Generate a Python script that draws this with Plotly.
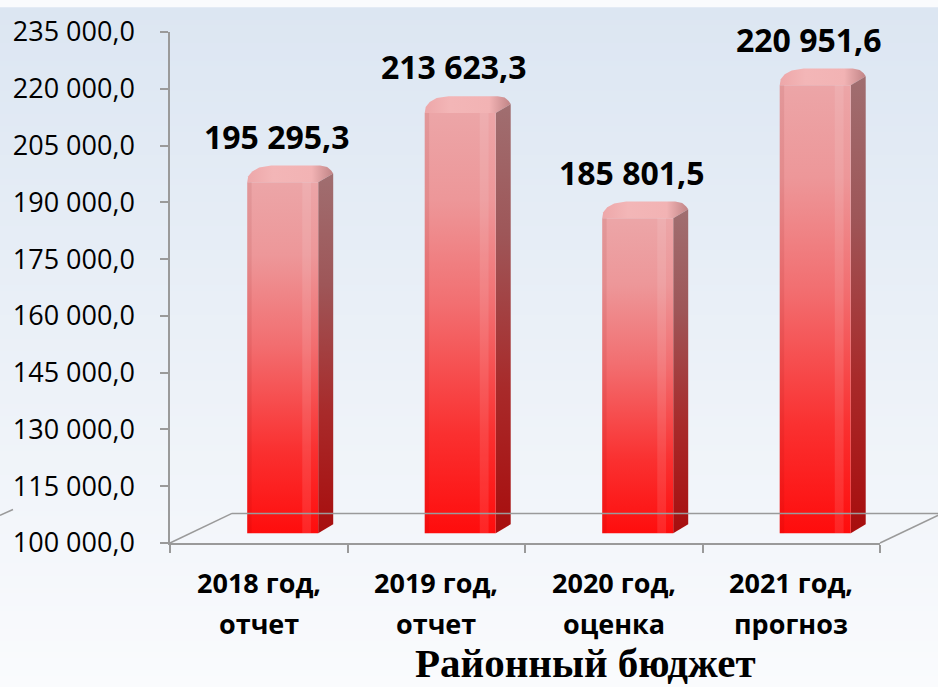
import plotly.graph_objects as go

# ---------------- data ----------------
cat_line1 = ["2018 год,", "2019 год,", "2020 год,", "2021 год,"]
cat_line2 = ["отчет", "отчет", "оценка", "прогноз"]
values = [195295.3, 213623.3, 185801.5, 220951.6]
y_tick_values = list(range(100000, 235001, 15000))
chart_title = "Районный бюджет"

# ---------------- geometry ----------------
W, H = 938, 687
L, R, T, B = 170, 58, 25, 144
Y0, Y1 = 100000, 235000
X0, X1 = -0.5, 3.5
pw, ph = W - L - R, H - T - B
ux = (X1 - X0) / pw
uy = (Y1 - Y0) / ph

face_l, face_r = -0.065, 0.335
wpx = (face_r - face_l) / ux
DXp, DYp = 15, 9
DX = DXp * ux
DY = DYp * uy
base = Y0 + 10 * uy

# cap outline in pixel offsets from the front-top-left corner
cap_px = [(0, 0), (1, 6), (5, 11), (12, 15), (24, 17), (wpx + 2, 17),
          (wpx + 9, 15.5), (wpx + 13, 12), (wpx + DXp, DYp), (wpx, 0), (0, 0)]


def px(xp):
    return (xp - L) / pw


def py(yp):
    return (H - B - yp) / ph


fig = go.Figure()

front_scale = [[0, "#ff0a0a"], [0.25, "#fa3030"], [0.55, "#f26e70"],
               [0.8, "#ed9799"], [1, "#eca5a7"]]
side_scale = [[0, "#a80c0c"], [0.35, "#a82a2a"], [0.7, "#9e5658"], [1, "#a06e70"]]

for i, v in enumerate(values):
    xl, xr = i + face_l, i + face_r
    # top cap
    fig.add_trace(go.Scatter(
        x=[xl + a * ux for a, b in cap_px],
        y=[v + b * uy for a, b in cap_px],
        mode="lines", fill="toself", line=dict(width=0),
        fillgradient=dict(type="horizontal",
                          colorscale=[[0, "#eda7a9"], [0.3, "#f3b6b7"], [0.75, "#f2b3b4"], [1, "#c08486"]],
                          start=xl, stop=xr + DX),
        hoverinfo="skip", showlegend=False))
    # side face
    fig.add_trace(go.Scatter(
        x=[xr, xr + DX, xr + DX, xr, xr],
        y=[base, base + DY, v + DY, v, base],
        mode="lines", fill="toself", line=dict(width=0),
        fillgradient=dict(type="vertical", colorscale=side_scale, start=base, stop=v + DY),
        hoverinfo="skip", showlegend=False))
    # front face
    fig.add_trace(go.Scatter(
        x=[xl, xr, xr, xl, xl],
        y=[base, base, v, v, base],
        mode="lines", fill="toself", line=dict(width=0),
        fillgradient=dict(type="vertical", colorscale=front_scale, start=base, stop=v),
        hoverinfo="skip", showlegend=False))
    # highlight strip on front face
    fig.add_trace(go.Scatter(
        x=[xr - 0.09, xr - 0.04, xr - 0.04, xr - 0.09, xr - 0.09],
        y=[base, base, v, v, base],
        mode="lines", fill="toself", line=dict(width=0),
        fillcolor="rgba(255,255,255,0.10)",
        hoverinfo="skip", showlegend=False))
    # darker left edge
    fig.add_trace(go.Scatter(
        x=[xl, xl + 0.025, xl + 0.025, xl, xl],
        y=[base, base, v, v, base],
        mode="lines", fill="toself", line=dict(width=0),
        fillcolor="rgba(120,0,0,0.08)",
        hoverinfo="skip", showlegend=False))

# data labels
for i, v in enumerate(values):
    txt = f"{v:,.1f}".replace(",", " ").replace(".", ",")
    fig.add_annotation(x=i + 0.1, y=v, text=txt, showarrow=False,
                       yshift=46, xanchor="center", yanchor="middle",
                       font=dict(family="Open Sans", size=32, color="black", weight="bold"))

# category labels
for i, (a, b) in enumerate(zip(cat_line1, cat_line2)):
    fig.add_annotation(x=i, y=py(583), yref="paper", text=a, showarrow=False,
                       xanchor="center", yanchor="middle",
                       font=dict(family="Open Sans", size=27, color="black", weight="bold"))
    fig.add_annotation(x=i, y=py(625), yref="paper", text=b, showarrow=False,
                       xanchor="center", yanchor="middle",
                       font=dict(family="Open Sans", size=27, color="black", weight="bold"))

# title
fig.add_annotation(x=px(585), y=py(665), xref="paper", yref="paper", text=chart_title,
                   showarrow=False, xanchor="center", yanchor="middle",
                   font=dict(family="Liberation Serif", size=41, color="black", weight="bold"))

# background gradient
shapes = []
step = 6
top_c = (220, 230, 242)
bot_c = (250, 251, 253)
for yp in range(0, H, step):
    t = yp / H
    c = tuple(int(round(top_c[k] + (bot_c[k] - top_c[k]) * t)) for k in range(3))
    shapes.append(dict(type="rect", xref="paper", yref="paper", layer="below",
                       x0=px(-5), x1=px(W + 5), y0=py(yp + step + 1), y1=py(yp),
                       fillcolor=f"rgb{c}", line=dict(width=0)))

floor_col = "#9a9a9a"
for (xa, ya, xb, yb) in [(170, 543, 232, 513), (232, 513, 945, 513),
                         (880, 543, 942, 513), (0, 515, 13, 509)]:
    shapes.append(dict(type="line", xref="paper", yref="paper",
                       x0=px(xa), y0=py(ya), x1=px(xb), y1=py(yb),
                       line=dict(color=floor_col, width=1.5)))

fig.update_layout(
    width=W, height=H,
    margin=dict(l=L, r=R, t=T, b=B, pad=0),
    paper_bgcolor="rgb(250,251,253)",
    plot_bgcolor="rgba(0,0,0,0)",
    separators=", ",
    shapes=shapes,
    showlegend=False,
    xaxis=dict(range=[X0, X1], showgrid=False, zeroline=False,
               showline=True, linecolor=floor_col, linewidth=1.5,
               tickvals=[-0.5, 0.5, 1.5, 2.5, 3.5], ticktext=[""] * 5,
               ticks="outside", ticklen=8, tickcolor=floor_col, tickwidth=1.5,
               fixedrange=True),
    yaxis=dict(range=[Y0, Y1], showgrid=False, zeroline=False,
               showline=True, linecolor=floor_col, linewidth=1.5,
               tickvals=y_tick_values, tickformat=",.1f",
               ticks="outside", ticklen=8, tickcolor=floor_col, tickwidth=1.5,
               ticklabelstandoff=20,
               tickfont=dict(family="Open Sans", size=27, color="black"),
               fixedrange=True),
)

fig.write_html("out.html", config={"displayModeBar": False},
               post_script="document.body.style.margin='0';document.body.style.overflow='hidden';")
